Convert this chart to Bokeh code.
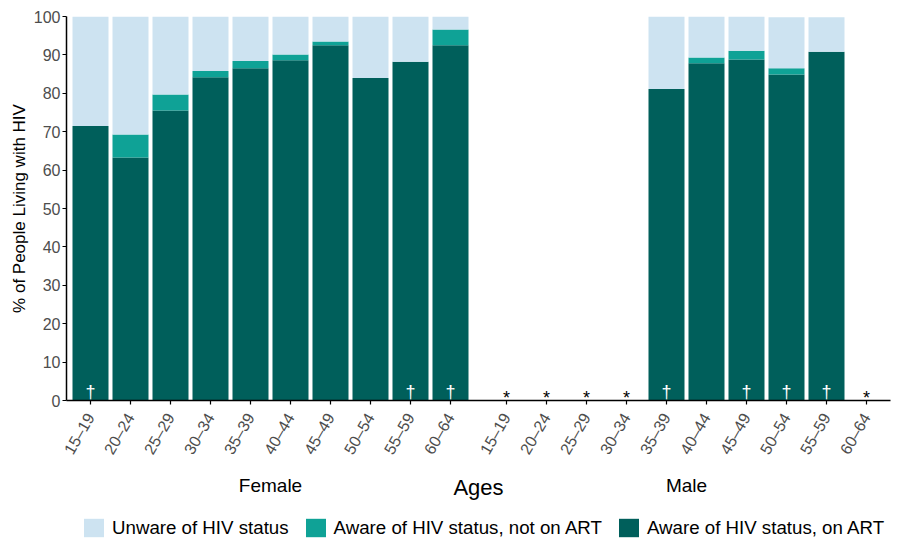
from bokeh.plotting import figure
from bokeh.models import FactorRange, Range1d, FixedTicker, Legend, LegendItem, ColumnDataSource
from bokeh.layouts import column
from bokeh.embed import file_html
from bokeh.resources import INLINE
from bokeh.core.properties import value
import math

# ---- data ----
ages = ["15–19", "20–24", "25–29", "30–34", "35–39", "40–44", "45–49", "50–54", "55–59", "60–64"]
sexes = ["Female", "Male"]
series = ["Unware of HIV status", "Aware of HIV status, not on ART", "Aware of HIV status, on ART"]

female_on_art = [71.5, 63.3, 75.5, 84.2, 86.5, 88.6, 92.5, 84.0, 88.2, 92.5]
female_not_on_art = [0.0, 6.0, 4.2, 1.6, 1.9, 1.5, 1.0, 0.0, 0.0, 4.1]
female_unaware = [28.5, 30.7, 20.3, 14.2, 11.6, 9.9, 6.5, 16.0, 11.8, 3.4]

male_on_art = [0.0, 0.0, 0.0, 0.0, 81.1, 87.8, 88.8, 84.9, 90.8, 0.0]
male_not_on_art = [0.0, 0.0, 0.0, 0.0, 0.0, 1.5, 2.3, 1.6, 0.0, 0.0]
male_unaware = [0.0, 0.0, 0.0, 0.0, 18.9, 10.7, 8.9, 13.3, 9.0, 0.0]

female_notes = ["†", "", "", "", "", "", "", "", "†", "†"]
male_notes = ["*", "*", "*", "*", "†", "", "†", "†", "†", "*"]

y_ticks = [0, 10, 20, 30, 40, 50, 60, 70, 80, 90, 100]

col_unaware = "#cde3f1"
col_not_art = "#0fa296"
col_on_art = "#005f5b"
colors = [col_on_art, col_not_art, col_unaware]
stack = ["on_art", "not_on_art", "unaware"]
FONT = "Liberation Sans"

# ---- sources ----
x = [(s, a) for s in sexes for a in ages]
src = ColumnDataSource(dict(
    x=x,
    on_art=female_on_art + male_on_art,
    not_on_art=female_not_on_art + male_not_on_art,
    unaware=female_unaware + male_unaware,
))
notes = female_notes + male_notes
dag = ColumnDataSource(dict(x=[xx for xx, n in zip(x, notes) if n == "†"],
                            t=[n for n in notes if n == "†"]))
ast = ColumnDataSource(dict(x=[xx for xx, n in zip(x, notes) if n == "*"],
                            t=[n for n in notes if n == "*"]))

p = figure(x_range=FactorRange(*x, group_padding=0.4, range_padding=0.1,
                               range_padding_units="absolute"),
           y_range=Range1d(0, 100),
           frame_width=824, frame_height=384,
           min_border_left=66, min_border_right=5, min_border_top=16, min_border_bottom=100,
           output_backend="svg", toolbar_location=None)
p.outline_line_color = None
p.xgrid.grid_line_color = None
p.ygrid.grid_line_color = None

rs = p.vbar_stack(stack, x="x", width=0.9, color=colors, line_color=None, source=src)

p.text(x="x", y=0, text="t", source=dag, text_color="white", text_align="center",
       text_baseline="alphabetic", y_offset=-9, text_font_size="18px", text_font=value(FONT))
p.text(x="x", y=0, text="t", source=ast, text_color="black", text_align="center",
       text_baseline="alphabetic", y_offset=-3, text_font_size="18px", text_font=value(FONT))

# y axis
ya = p.yaxis[0]
ya.ticker = FixedTicker(ticks=y_ticks)
ya.axis_label = "% of People Living with HIV"
ya.axis_label_text_font = FONT
ya.axis_label_text_font_style = "normal"
ya.axis_label_text_font_size = "17px"
ya.axis_label_text_color = "black"
ya.axis_label_standoff = 2
ya.major_label_text_font = FONT
ya.major_label_text_font_size = "16px"
ya.major_label_text_color = "#4d4d4d"
ya.major_label_standoff = 2
ya.major_tick_in = 0
ya.major_tick_out = 4
ya.minor_tick_line_color = None
ya.axis_line_width = 1.5
ya.major_tick_line_width = 1.2

# x axis
xa = p.xaxis[0]
xa.axis_label = "Ages"
xa.axis_label_text_font = FONT
xa.axis_label_text_font_style = "normal"
xa.axis_label_text_font_size = "22px"
xa.axis_label_text_color = "black"
xa.axis_label_standoff = -24
xa.major_label_orientation = math.pi / 3
xa.major_label_text_font = FONT
xa.major_label_text_font_size = "16px"
xa.major_label_text_color = "#4d4d4d"
xa.major_label_standoff = 10
xa.group_text_font = FONT
xa.group_text_font_size = "19px"
xa.group_text_font_style = "normal"
xa.group_text_color = "black"
xa.separator_line_color = None
xa.major_tick_in = 0
xa.major_tick_out = 4
xa.axis_line_width = 1.5
xa.major_tick_line_width = 1.2

# ---- legend strip (same series as zero-width bars, outside its visible range) ----
lg = figure(width=895, height=37, x_range=p.x_range, y_range=Range1d(-300, -290),
            x_axis_type=None, y_axis_type=None,
            min_border=0, output_backend="svg", toolbar_location=None)
lg.outline_line_color = None
lg.xgrid.visible = False
lg.ygrid.visible = False
lr = lg.vbar_stack(stack, x="x", width=0, color=colors, line_color=None, source=src)
legend = Legend(items=[LegendItem(label=series[0], renderers=[lr[2]]),
                       LegendItem(label=series[1], renderers=[lr[1]]),
                       LegendItem(label=series[2], renderers=[lr[0]])],
                orientation="horizontal", location=(15, 0),
                glyph_width=25, glyph_height=23, label_standoff=6, spacing=14,
                padding=0, margin=0, border_line_color=None, background_fill_alpha=0,
                label_text_font=FONT, label_text_font_size="18.7px", label_text_color="black")
lg.add_layout(legend)

open("out.html", "w").write(file_html(column(p, lg), INLINE))
